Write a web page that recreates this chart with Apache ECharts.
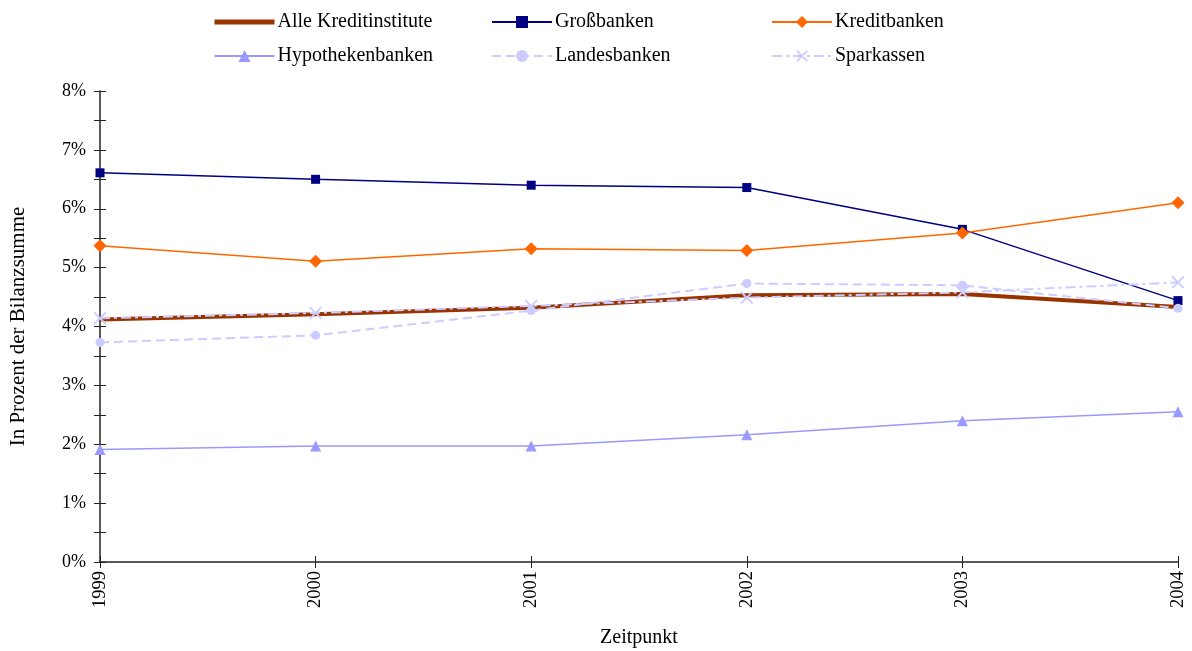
<!DOCTYPE html>
<html>
<head>
<meta charset="utf-8">
<script src="https://cdn.jsdelivr.net/npm/echarts@6/dist/echarts.min.js"></script>
<style>
  html, body { margin: 0; padding: 0; background: #fff; }
  #chart { width: 1192px; height: 651px; }
</style>
</head>
<body>
<div id="chart"></div>
<script>
// Werte in Prozent der Bilanzsumme
const years = ['1999', '2000', '2001', '2002', '2003', '2004'];
const alleKreditinstitute = [4.12, 4.21, 4.32, 4.53, 4.55, 4.33];
const grossbanken = [6.61, 6.50, 6.40, 6.36, 5.65, 4.44];
const kreditbanken = [5.37, 5.11, 5.32, 5.29, 5.59, 6.10];
const hypothekenbanken = [1.91, 1.97, 1.97, 2.16, 2.40, 2.55];
const landesbanken = [3.73, 3.85, 4.27, 4.73, 4.70, 4.31];
const sparkassen = [4.14, 4.23, 4.35, 4.49, 4.58, 4.75];

const FONT = '"Liberation Serif", "DejaVu Serif", serif';
const crossPath = 'path://M0,1 L1,0 L5,4 L9,0 L10,1 L6,5 L10,9 L9,10 L5,6 L1,10 L0,9 L4,5 Z';

const chart = echarts.init(document.getElementById('chart'));

const legendBase = {
    orient: 'vertical',
    top: 12,
    padding: 0,
    itemWidth: 60,
    itemHeight: 15,
    itemGap: 14,
    textStyle: { fontFamily: FONT, fontSize: 20, color: '#000', padding: [0, 0, 0, -2] }
};

const option = {
    animation: false,
    backgroundColor: '#fff',
    textStyle: { fontFamily: FONT },
    legend: [
        Object.assign({}, legendBase, {
            left: 212,
            data: [
                { name: 'Alle Kreditinstitute', itemStyle: { opacity: 0 }, lineStyle: { width: 5 } },
                'Hypothekenbanken'
            ]
        }),
        Object.assign({}, legendBase, { left: 491, data: ['Großbanken', 'Landesbanken'] }),
        Object.assign({}, legendBase, { left: 771, data: ['Kreditbanken', 'Sparkassen'] })
    ],
    grid: { left: 100, right: 14, top: 91, bottom: 89, outerBoundsMode: 'none' },
    xAxis: [
        {
            type: 'category',
            data: years,
            boundaryGap: false,
            name: 'Zeitpunkt',
            nameLocation: 'middle',
            nameGap: 66,
            nameTextStyle: { fontFamily: FONT, fontSize: 20, color: '#000' },
            axisLine: { lineStyle: { color: '#222', width: 1.5 } },
            axisTick: { show: true, length: 6, lineStyle: { color: '#222' } },
            axisLabel: { rotate: 90, fontFamily: FONT, fontSize: 18.5, color: '#000', margin: 9 },
            splitLine: { show: false }
        },
        {
            type: 'category',
            data: years,
            boundaryGap: false,
            position: 'bottom',
            axisLine: { show: false },
            axisTick: { show: true, inside: true, length: 6, lineStyle: { color: '#222' } },
            axisLabel: { show: false },
            splitLine: { show: false }
        }
    ],
    yAxis: [
        {
            type: 'value',
            min: 0,
            max: 8,
            interval: 1,
            name: 'In Prozent der Bilanzsumme',
            nameLocation: 'middle',
            nameGap: 71,
            nameTextStyle: { fontFamily: FONT, fontSize: 21, color: '#000' },
            axisLine: { show: true, lineStyle: { color: '#222', width: 1.5 } },
            axisTick: { show: true, length: 6, lineStyle: { color: '#222' } },
            minorTick: { show: true, splitNumber: 2, length: 6, lineStyle: { color: '#222' } },
            axisLabel: { formatter: '{value}%', fontFamily: FONT, fontSize: 18, color: '#000', margin: 14 },
            splitLine: { show: false }
        },
        {
            type: 'value',
            min: 0,
            max: 8,
            interval: 1,
            position: 'left',
            axisLine: { show: false },
            axisTick: { show: true, inside: true, length: 6, lineStyle: { color: '#222' } },
            minorTick: { show: true, splitNumber: 2, length: 6, lineStyle: { color: '#222' } },
            axisLabel: { show: false },
            splitLine: { show: false }
        }
    ],
    series: [
        {
            name: 'Alle Kreditinstitute',
            type: 'line',
            data: alleKreditinstitute,
            symbol: 'none',
            color: '#993300',
            lineStyle: { color: '#993300', width: 4 }
        },
        {
            name: 'Großbanken',
            type: 'line',
            data: grossbanken,
            symbol: 'rect',
            symbolSize: 9,
            color: '#000080',
            lineStyle: { color: '#000080', width: 1.5 }
        },
        {
            name: 'Kreditbanken',
            type: 'line',
            data: kreditbanken,
            symbol: 'diamond',
            symbolSize: 13,
            color: '#FF6600',
            lineStyle: { color: '#FF6600', width: 1.5 }
        },
        {
            name: 'Hypothekenbanken',
            type: 'line',
            data: hypothekenbanken,
            symbol: 'triangle',
            symbolSize: 11,
            color: '#9999FF',
            lineStyle: { color: '#9999FF', width: 1.5 }
        },
        {
            name: 'Landesbanken',
            type: 'line',
            data: landesbanken,
            symbol: 'circle',
            symbolSize: 9,
            color: '#CCCCFF',
            lineStyle: { color: '#CCCCFF', width: 2, type: [9, 5] }
        },
        {
            name: 'Sparkassen',
            type: 'line',
            data: sparkassen,
            symbol: crossPath,
            symbolSize: 13,
            color: '#CCCCFF',
            lineStyle: { color: '#CCCCFF', width: 2, type: [10, 4, 3, 4] }
        }
    ]
};

chart.setOption(option);
</script>
</body>
</html>
